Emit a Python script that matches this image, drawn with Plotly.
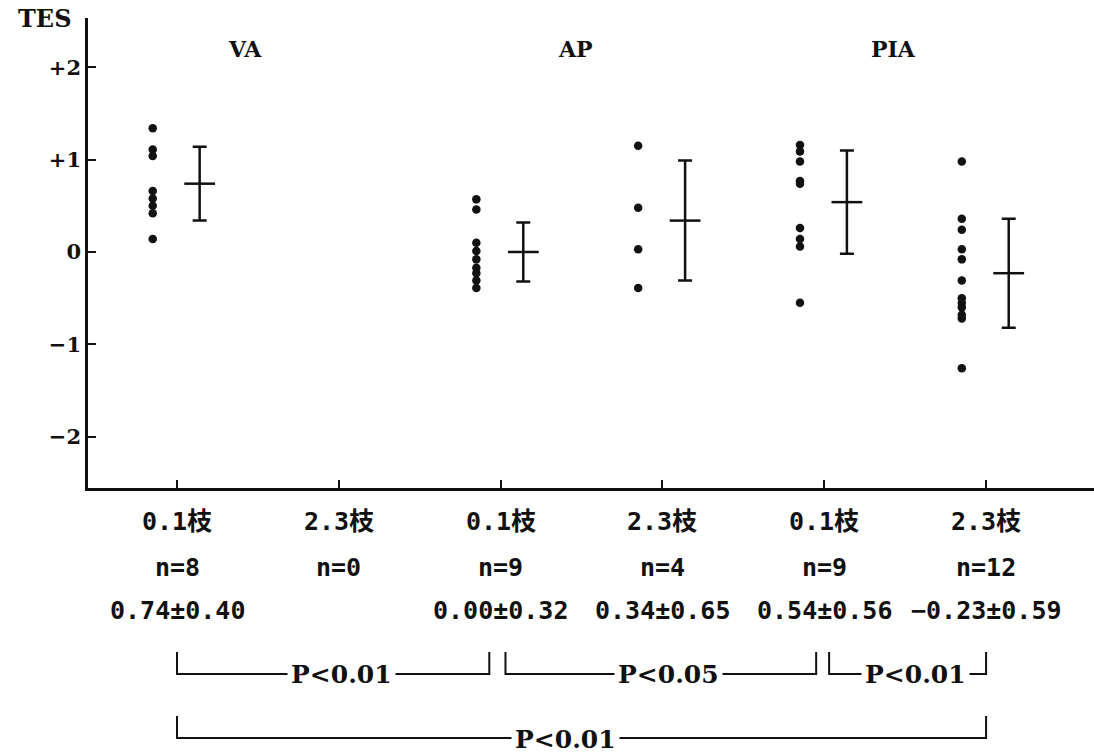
import plotly.graph_objects as go

# ---------------- data ----------------
groups = ["VA", "AP", "PIA"]
categories = ["0.1枝", "2.3枝", "0.1枝", "2.3枝", "0.1枝", "2.3枝"]
n_values = [8, 0, 9, 4, 9, 12]
means = [0.74, None, 0.00, 0.34, 0.54, -0.23]
sds = [0.40, None, 0.32, 0.65, 0.56, 0.59]

va_01 = [1.34, 1.11, 1.04, 0.66, 0.58, 0.50, 0.42, 0.14]
va_23 = []
ap_01 = [0.57, 0.46, 0.10, 0.01, -0.08, -0.17, -0.23, -0.31, -0.39]
ap_23 = [1.15, 0.48, 0.03, -0.39]
pia_01 = [1.16, 1.09, 0.98, 0.77, 0.74, 0.26, 0.14, 0.06, -0.55]
pia_23 = [0.98, 0.36, 0.24, 0.03, -0.08, -0.31, -0.50, -0.55, -0.60, -0.68, -0.72, -1.26]
points = [va_01, va_23, ap_01, ap_23, pia_01, pia_23]

y_tickvals = [-2, -1, 0, 1, 2]
y_ticktext = ["\u22122", "\u22121", "0", "+1", "+2"]

# comparisons: (from category index, to category index, label, row)
comparisons = [(1, 3, "P<0.01", 1), (3, 5, "P<0.05", 1), (5, 6, "P<0.01", 1), (1, 6, "P<0.01", 2)]

# ---------------- styling ----------------
SERIF = "DejaVu Serif, Liberation Serif, Noto Sans CJK SC, serif"
MONO = "DejaVu Sans Mono, Liberation Mono, Noto Sans CJK SC, monospace"
BLACK = "#111111"
DOT_OFF = -0.15
BAR_OFF = 0.14
GROUP_X = [1.42, 3.46, 5.43]

fig = go.Figure()

xpos = list(range(1, len(categories) + 1))

for xi, vals in zip(xpos, points):
    if not vals:
        continue
    fig.add_trace(go.Scatter(
        x=[xi + DOT_OFF] * len(vals), y=vals, mode="markers",
        marker=dict(size=8.5, color=BLACK, symbol="circle"),
        showlegend=False, hoverinfo="skip"))

bx, by, be = [], [], []
for xi, m, s in zip(xpos, means, sds):
    if m is None:
        continue
    bx.append(xi + BAR_OFF)
    by.append(m)
    be.append(s)

fig.add_trace(go.Scatter(
    x=bx, y=by, mode="markers",
    marker=dict(symbol="line-ew", size=22, line=dict(width=2.5, color=BLACK), color=BLACK),
    error_y=dict(type="data", array=be, visible=True, color=BLACK, thickness=2.5, width=7),
    showlegend=False, hoverinfo="skip"))

# plot box geometry in pixels (for paper conversions)
H, W = 755, 1094
TOP, BOTTOM, LEFT = 18, 488, 88
PH = BOTTOM - TOP
def py(p):
    return (BOTTOM - p) / PH

def f(family, size):
    return dict(family=family, size=size, color=BLACK, weight="bold")

annotations = []
# group titles
for gx, g in zip(GROUP_X, groups):
    annotations.append(dict(x=gx, y=2.2, xref="x", yref="y", text=g, yanchor="middle",
                            showarrow=False, font=f(SERIF, 22)))
# TES axis title
annotations.append(dict(x=(44 - LEFT) / (W - LEFT), y=py(19), xref="paper", yref="paper",
                        text="TES", showarrow=False, yanchor="middle", xanchor="center",
                        font=f(SERIF, 24)))
# category labels
for xi, c, n, m, s in zip(xpos, categories, n_values, means, sds):
    annotations.append(dict(x=xi, y=py(521), xref="x", yref="paper", text=c, showarrow=False,
                            yanchor="middle", font=f(MONO, 25)))
    annotations.append(dict(x=xi, y=py(567), xref="x", yref="paper", text=f"n={n}",
                            yanchor="middle", showarrow=False, font=f(MONO, 25)))
    if m is not None:
        ms = f"{m:.2f}".replace("-", "\u2212")
        annotations.append(dict(x=xi, y=py(610), xref="x", yref="paper",
                                text=f"{ms}±{s:.2f}", showarrow=False, yanchor="middle",
                                font=f(MONO, 25)))

shapes = []
row_line = {1: 674, 2: 738}
row_top = {1: 652, 2: 716}
for a, b, lab, row in comparisons:
    x0 = a + (0.03 if (row == 1 and a != 1) else 0.0)
    x1 = b - (0.07 if (row == 1 and b == 3) else (0.05 if (row == 1 and b == 5) else 0.0))
    yl, yt = py(row_line[row]), py(row_top[row])
    shapes.append(dict(type="path", xref="x", yref="paper",
                       path=f"M {x0},{yt} L {x0},{yl} L {x1},{yl} L {x1},{yt}",
                       line=dict(color=BLACK, width=2)))
    annotations.append(dict(x=(x0 + x1) / 2 + (0.05 if row == 1 else -0.1),
                            y=yl - (0.0 if row == 1 else 0.004), xref="x", yref="paper",
                            text=lab, showarrow=False,
                            bgcolor="white", borderpad=3, yanchor="middle",
                            font=f(SERIF, 25)))

fig.update_layout(
    width=W, height=H,
    margin=dict(l=LEFT, r=0, t=TOP, b=H - BOTTOM),
    paper_bgcolor="white", plot_bgcolor="white",
    showlegend=False,
    xaxis=dict(range=[0.45, 6.667], showgrid=False, zeroline=False, showline=True,
               linecolor=BLACK, linewidth=2.5, ticks="inside", ticklen=8, tickwidth=2,
               tickcolor=BLACK, tickvals=xpos, showticklabels=False, fixedrange=True),
    yaxis=dict(range=[-2.557, 2.535], showgrid=False, zeroline=False, showline=True,
               linecolor=BLACK, linewidth=2.5, ticks="inside", ticklen=8, tickwidth=2,
               tickcolor=BLACK, tickvals=y_tickvals, ticktext=y_ticktext,
               tickfont=f(SERIF, 21), fixedrange=True),
    annotations=annotations,
    shapes=shapes,
)

fig.write_html("out.html", config={"displayModeBar": False})
